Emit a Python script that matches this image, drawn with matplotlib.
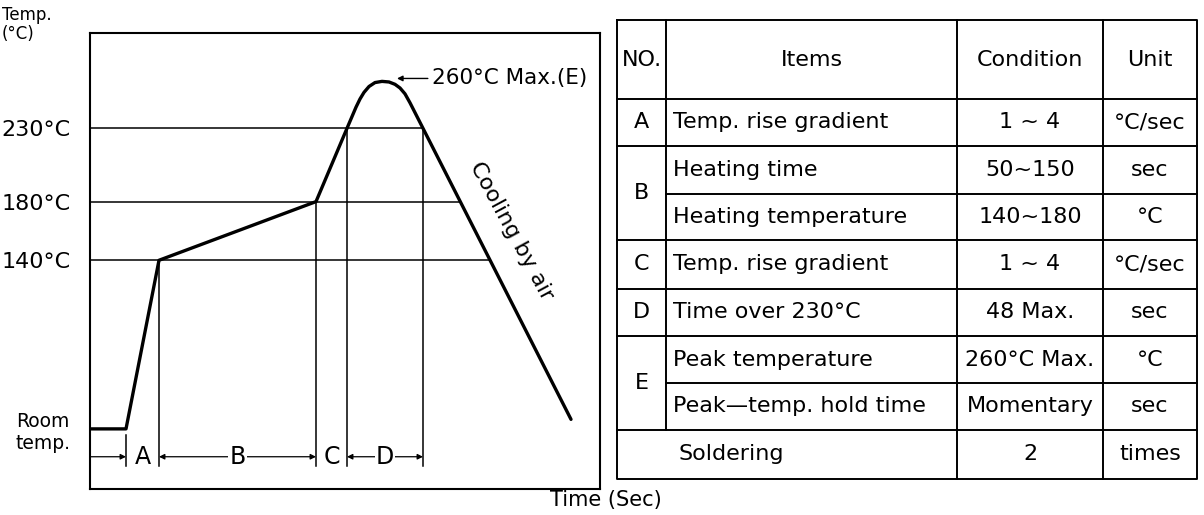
import numpy as np
import matplotlib.pyplot as plt

# ---- reflow profile (schematic), time in sec / temp in degC ----
prof_t = [0, 36, 69, 226, 257, 262, 266, 270, 274, 279, 285, 292,
          299, 305, 310, 315, 320, 333, 481]
prof_T = [25, 25, 140, 180, 230, 238, 244.4, 250, 254.5, 258.5, 261.2, 262,
          261.6, 260, 257.5, 253.5, 247.4, 230, 31.5]

levels = [140, 180, 230]
ytick_vals = [25, 140, 180, 230]
ytick_labels = ["Room\ntemp.", "140°C", "180°C", "230°C"]

zone_edges = [36, 69, 226, 257, 333]
zone_names = ["A", "B", "C", "D"]
zone_arrows = [False, True, False, True]

# ---- table ----
group_names = ["A", "B", "C", "D", "E"]
group_rows = [[0], [1, 2], [3], [4], [5, 6]]
item_names = ["Temp. rise gradient", "Heating time", "Heating temperature",
              "Temp. rise gradient", "Time over 230°C", "Peak temperature",
              "Peak—temp. hold time", "Soldering"]
conditions = ["1 ~ 4", "50~150", "140~180", "1 ~ 4", "48 Max.",
              "260°C Max.", "Momentary", "2"]
units = ["°C/sec", "sec", "°C", "°C/sec", "sec", "°C", "sec", "times"]
headers = ["NO.", "Items", "Condition", "Unit"]

W, H = 1204, 515
fig = plt.figure(figsize=(W / 100, H / 100), dpi=100)

# chart box
ax = fig.add_axes([90 / W, 1 - 489 / H, 510 / W, 456 / H])
ax.set_xlim(0, 510)
ax.set_ylim(-16, 295)
for s in ax.spines.values():
    s.set_linewidth(1.5)
ax.set_xticks([])
ax.set_yticks(ytick_vals, ytick_labels, fontsize=16)
ax.tick_params(axis="y", length=0, pad=14)
ax.get_yticklabels()[0].set_fontsize(13.5)
ax.get_yticklabels()[0].set_multialignment("center")

ax.plot(prof_t, prof_T, color="black", lw=2.4, solid_joinstyle="round",
        solid_capstyle="round", zorder=3)

# horizontal guide lines end on the cooling slope
cool_t = prof_t[-2:][::-1]
cool_T = prof_T[-2:][::-1]
for lv in levels:
    t_end = np.interp(lv, cool_T, cool_t)
    ax.plot([0, t_end], [lv, lv], color="black", lw=1.1)

# vertical zone lines
for i, te in enumerate(zone_edges):
    top = np.interp(te, prof_t, prof_T) if i > 0 else 21
    ax.plot([te, te], [0, top], color="black", lw=1.1)

# dimension arrows + letters
dim_y = 6
ax.annotate("", xy=(zone_edges[0], dim_y), xytext=(0, dim_y),
            arrowprops=dict(arrowstyle="-|>", lw=0.9, color="black",
                            mutation_scale=8, shrinkA=0, shrinkB=0))
for i, name in enumerate(zone_names):
    a, b = zone_edges[i], zone_edges[i + 1]
    if zone_arrows[i]:
        ax.annotate("", xy=(b, dim_y), xytext=(a, dim_y),
                    arrowprops=dict(arrowstyle="<|-|>", lw=0.9, color="black",
                                    mutation_scale=8, shrinkA=0, shrinkB=0))
    ax.text((a + b) / 2, dim_y, name, ha="center", va="center", fontsize=17,
            bbox=dict(boxstyle="square,pad=0.05", fc="white", ec="none"))

ax.annotate("260°C Max.(E)", xy=(307, 264), xytext=(342, 264),
            ha="left", va="center", fontsize=15.5,
            arrowprops=dict(arrowstyle="-|>", lw=1.0, color="black",
                            mutation_scale=8, shrinkA=1, shrinkB=0))
ax.text(421, 160, "Cooling by air", rotation=-61.6, rotation_mode="anchor",
        ha="center", va="center", fontsize=16)

fig.text(2 / W, 1 - 15 / H, "Temp.", ha="left", va="center", fontsize=12)
fig.text(2 / W, 1 - 34 / H, "(°C)", ha="left", va="center", fontsize=12)
fig.text(606 / W, 1 - 500 / H, "Time (Sec)", ha="center", va="center", fontsize=15)

# table drawn as lines
col_x = [617, 666, 957, 1103, 1197]
row_y = [20, 99, 146, 194, 240, 289, 336, 383, 430, 479]
tx = fig.add_axes([617 / W, 1 - 479 / H, 580 / W, 459 / H])
tx.set_xlim(col_x[0], col_x[-1])
tx.set_ylim(row_y[-1], row_y[0])
tx.axis("off")
lk = dict(color="black", lw=1.4, clip_on=False)

tx.plot([col_x[0], col_x[-1], col_x[-1], col_x[0], col_x[0]],
        [row_y[0], row_y[0], row_y[-1], row_y[-1], row_y[0]], **lk)
tx.plot([col_x[1], col_x[1]], [row_y[0], row_y[-2]], **lk)
for cx in col_x[2:4]:
    tx.plot([cx, cx], [row_y[0], row_y[-1]], **lk)

# group boundaries full width, inner split rows from Items column
group_bottoms = [row_y[1]] + [row_y[g[-1] + 2] for g in group_rows]
for k in range(1, len(row_y) - 1):
    y = row_y[k]
    x0 = col_x[0] if y in group_bottoms else col_x[1]
    tx.plot([x0, col_x[-1]], [y, y], **lk)

hy = (row_y[0] + row_y[1]) / 2
for j, h in enumerate(headers):
    tx.text((col_x[j] + col_x[j + 1]) / 2, hy, h, ha="center", va="center", fontsize=16)

for name, rows in zip(group_names, group_rows):
    yc = (row_y[rows[0] + 1] + row_y[rows[-1] + 2]) / 2
    tx.text((col_x[0] + col_x[1]) / 2, yc, name, ha="center", va="center", fontsize=16)

for r in range(len(item_names)):
    yc = (row_y[r + 1] + row_y[r + 2]) / 2
    x_item = col_x[1] + 7 if r < len(item_names) - 1 else col_x[1] + 12
    tx.text(x_item, yc, item_names[r], ha="left", va="center", fontsize=16)
    tx.text((col_x[2] + col_x[3]) / 2, yc, conditions[r], ha="center", va="center", fontsize=16)
    tx.text((col_x[3] + col_x[4]) / 2, yc, units[r], ha="center", va="center", fontsize=16)

fig.savefig("out.png", dpi=100, facecolor="white")
